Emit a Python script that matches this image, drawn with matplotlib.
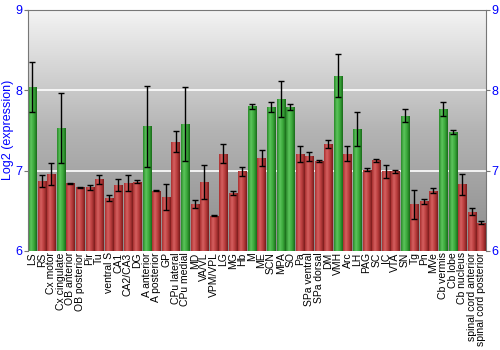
import numpy as np
import matplotlib.pyplot as plt
from matplotlib.colors import LinearSegmentedColormap

plt.rcParams['font.family'] = ['Liberation Sans', 'DejaVu Sans']

regions = ["LS", "RS", "Cx motor", "Cx cingulate", "OB anterior", "OB posterior",
           "Pir", "Tu", "ventral S", "CA1", "CA2/CA3", "DG", "A anterior",
           "A posterior", "GP", "CPu lateral", "CPu medial", "MD", "VA/VL",
           "VPM/VPL", "LG", "MG", "Hb", "M", "ME", "SCN", "MPA", "SO", "Pa",
           "SPa ventral", "SPa dorsal", "DM", "VMH", "Arc", "LH", "PAG", "SC",
           "IC", "VTA", "SN", "Tg", "Pn", "MVe", "Cb vermis", "Cb lobe",
           "Cb nucleus", "spinal cord anterior", "spinal cord posterior"]
expr = [8.04, 6.87, 6.96, 7.53, 6.84, 6.79, 6.79, 6.89, 6.66, 6.82, 6.84, 6.86,
        7.55, 6.75, 6.67, 7.36, 7.58, 6.59, 6.86, 6.44, 7.21, 6.72, 6.99, 7.80,
        7.16, 7.79, 7.89, 7.79, 7.21, 7.18, 7.12, 7.33, 8.18, 7.21, 7.52, 7.01,
        7.13, 6.99, 6.99, 7.68, 6.58, 6.62, 6.75, 7.77, 7.48, 6.83, 6.49, 6.35]
err = [0.31, 0.07, 0.14, 0.43, 0.01, 0.01, 0.03, 0.06, 0.04, 0.075, 0.10, 0.02,
       0.50, 0.01, 0.16, 0.13, 0.46, 0.05, 0.21, 0.01, 0.12, 0.03, 0.06, 0.03,
       0.10, 0.065, 0.22, 0.04, 0.10, 0.055, 0.01, 0.05, 0.27, 0.09, 0.21, 0.02,
       0.02, 0.08, 0.02, 0.08, 0.18, 0.03, 0.03, 0.085, 0.03, 0.13, 0.04, 0.02]
high = [1, 0, 0, 1, 0, 0, 0, 0, 0, 0, 0, 0, 1, 0, 0, 0, 1, 0, 0, 0, 0, 0, 0, 1,
        0, 1, 1, 1, 0, 0, 0, 0, 1, 0, 1, 0, 0, 0, 0, 1, 0, 0, 0, 1, 1, 0, 0, 0]

fig = plt.figure(figsize=(5, 3.5), dpi=100)
ax = fig.add_axes([0.055, 0.283, 0.917, 0.689])

x = np.arange(len(regions))
ymin, ymax = 6, 9
ax.set_xlim(-0.5, len(regions) - 0.5)
ax.set_ylim(ymin, ymax)

# vertical grey gradient behind the bars
bg = LinearSegmentedColormap.from_list("bg", ["#8c8c8c", "#b4b4b4", "#f4f4f4"])
ax.imshow(np.linspace(0, 1, 256).reshape(-1, 1), cmap=bg, origin="lower",
          extent=[-0.5, len(regions) - 0.5, ymin, ymax], aspect="auto", zorder=0)

for yv in [7, 8]:
    ax.axhline(yv, color="white", lw=1.2, zorder=1)

green = LinearSegmentedColormap.from_list("g", ["#2a8a2a", "#5cc45c", "#3aa83a", "#1a6a1a"])
red = LinearSegmentedColormap.from_list("r", ["#a83030", "#d66060", "#b83c3c", "#7a1c1c"])
shade = np.linspace(0, 1, 64).reshape(1, -1)

bars = ax.bar(x, np.array(expr) - ymin, bottom=ymin, width=0.85, color="none",
              edgecolor="none", zorder=2)
for b, h in zip(bars, high):
    im = ax.imshow(shade, cmap=green if h else red, aspect="auto", zorder=2,
                   extent=[b.get_x(), b.get_x() + b.get_width(), ymin, b.get_y() + b.get_height()])
    im.set_clip_path(b)

ax.errorbar(x, expr, yerr=err, fmt="none", ecolor="black", elinewidth=1,
            capsize=2.5, capthick=1, zorder=3)

ax.set_xticks(x)
ax.set_xticklabels(regions, rotation=90, fontsize=7.5)
ax.tick_params(axis="x", length=0, pad=1)
ax.set_yticks([6, 7, 8, 9])
ax.tick_params(axis="y", colors="#777777", labelcolor="blue", labelsize=9,
               length=3, right=True, labelright=True, pad=1)
ax.set_ylabel("Log2 (expression)", color="blue", fontsize=9, labelpad=1)

for side in ["left", "right", "top"]:
    ax.spines[side].set_color("#777777")
ax.spines["bottom"].set_visible(False)

fig.savefig("out.png", dpi=100)
